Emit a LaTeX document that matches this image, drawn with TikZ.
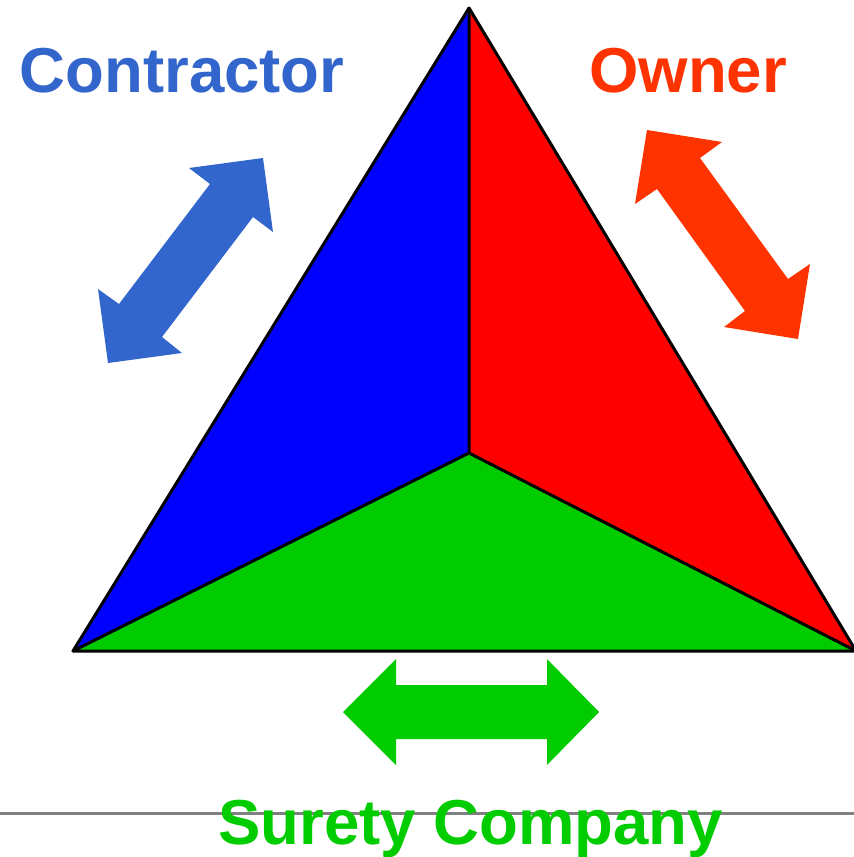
\documentclass[tikz,border=0pt]{standalone}
\usepackage{fontspec}
\setmainfont{Liberation Sans}
\definecolor{cblue}{HTML}{3366CC}
\definecolor{corange}{HTML}{FF3300}
\definecolor{cgreen}{HTML}{00CC00}
\definecolor{tblue}{HTML}{0000FF}
\definecolor{tred}{HTML}{FF0000}
\definecolor{cgray}{HTML}{808080}
\begin{document}
\begin{tikzpicture}[x=1pt,y=-1pt,
  label text/.style={font=\fontsize{63.5}{70}\selectfont\bfseries, inner sep=0pt, anchor=base},
  face/.style={draw=black, line width=3pt, line join=round},
  bigarrow/.style={draw=none}]
\useasboundingbox (0,0) rectangle (854,857);
\clip (0,0) rectangle (854,857);
\coordinate (A) at (469,8);
\coordinate (L) at (73,651);
\coordinate (R) at (856,651);
\coordinate (M) at (469,453);
% faces
\fill[tblue] (A) -- (M) -- (L) -- cycle;
\fill[tred] (A) -- (R) -- (M) -- cycle;
\fill[cgreen] (L) -- (M) -- (R) -- cycle;
\draw[face] (A) -- (L) -- (R) -- cycle;
\draw[face] (A) -- (M) (L) -- (M) -- (R);
% blue arrow
\fill[cblue] (263,158) -- (273,232) -- (253,217) -- (162,337) -- (182,353) -- (108,363) -- (98,289) -- (119,304) -- (210,184) -- (189,168) -- cycle;
% orange arrow
\fill[corange] (647,130) -- (722,142) -- (700,158) -- (788,279) -- (810,264) -- (798,339) -- (724,327) -- (745,311) -- (657,189) -- (635,204) -- cycle;
% green arrow
\fill[cgreen] (343,712) -- (396,659) -- (396,685) -- (547,685) -- (547,659) -- (599,712) -- (547,765) -- (547,739) -- (396,739) -- (396,765) -- cycle;
% gray line
\coordinate (g1) at (0,813);
\coordinate (g2) at (854,813);
\draw[cgray, line width=3pt] (g1) -- (g2);
% labels
\node[label text, text=cblue] (contractor) at (182,92) {Contractor};
\node[label text, text=corange] (owner) at (688,92) {Owner};
\node[label text, text=cgreen] (surety) at (470.5,844) {Surety Company};
\end{tikzpicture}
\end{document}
